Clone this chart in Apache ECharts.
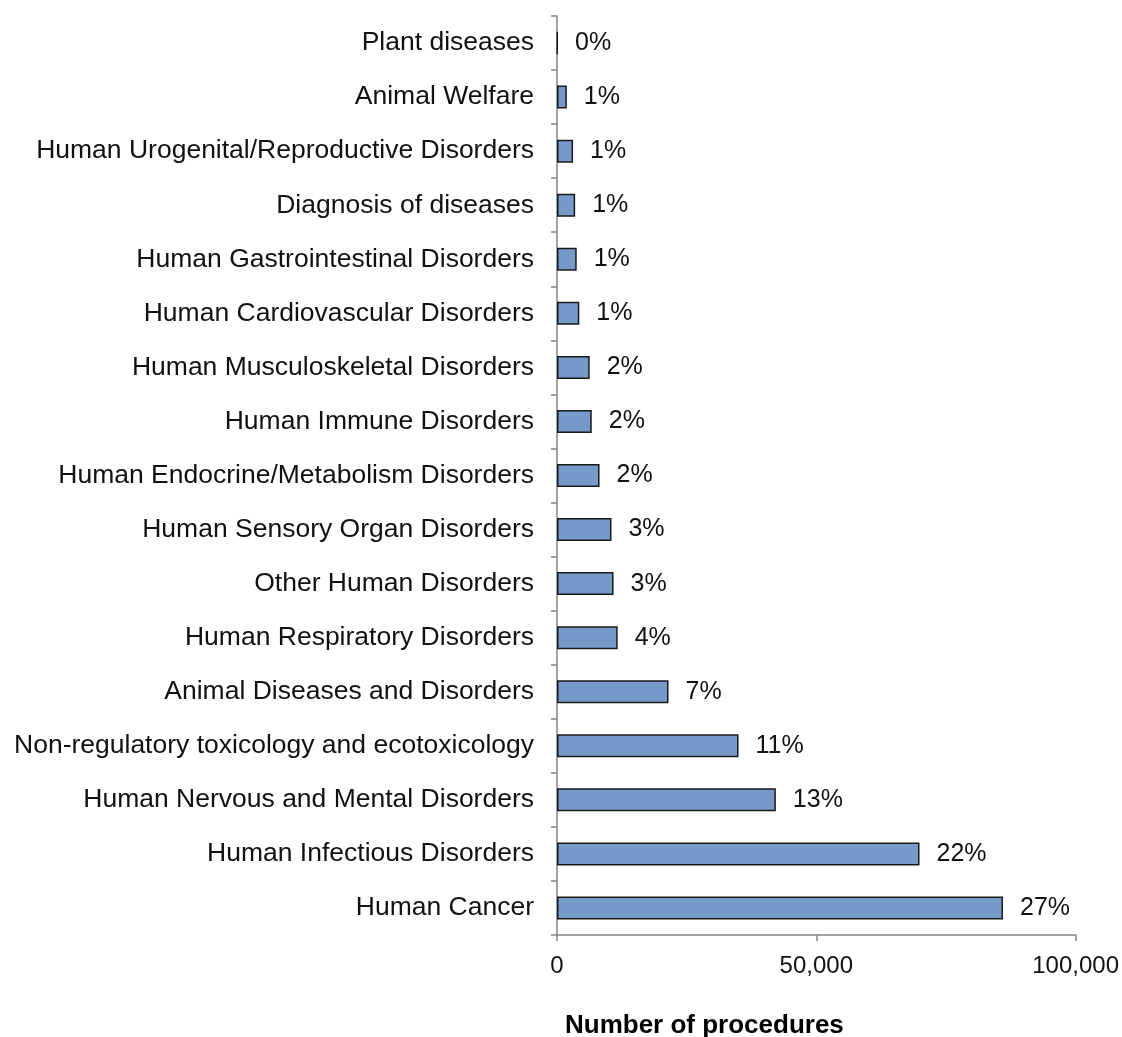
<!DOCTYPE html>
<html>
<head>
<meta charset="utf-8">
<script src="https://cdn.jsdelivr.net/npm/echarts@6/dist/echarts.min.js"></script>
<style>
html,body{margin:0;padding:0;background:#fff;}
#chart{width:1122px;height:1037px;}
</style>
</head>
<body>
<div id="chart"></div>
<script>
// Categories listed top to bottom
const categories = [
  "Plant diseases",
  "Animal Welfare",
  "Human Urogenital/Reproductive Disorders",
  "Diagnosis of diseases",
  "Human Gastrointestinal Disorders",
  "Human Cardiovascular Disorders",
  "Human Musculoskeletal Disorders",
  "Human Immune Disorders",
  "Human Endocrine/Metabolism Disorders",
  "Human Sensory Organ Disorders",
  "Other Human Disorders",
  "Human Respiratory Disorders",
  "Animal Diseases and Disorders",
  "Non-regulatory toxicology and ecotoxicology",
  "Human Nervous and Mental Disorders",
  "Human Infectious Disorders",
  "Human Cancer"
];
const procedures = [100, 1900, 3100, 3500, 3800, 4300, 6300, 6700, 8200, 10500, 10900, 11700, 21500, 35000, 42200, 69900, 86000];
const percentLabels = ["0%", "1%", "1%", "1%", "1%", "1%", "2%", "2%", "2%", "3%", "3%", "4%", "7%", "11%", "13%", "22%", "27%"];
const xTicks = [0, 50000, 100000];

const FONT = "'Liberation Sans', Arial, sans-serif";
const chart = echarts.init(document.getElementById('chart'), null, {renderer: 'canvas'});
chart.setOption({
  animation: false,
  backgroundColor: '#ffffff',
  grid: {left: 557, right: 43, top: 16, bottom: 102, containLabel: false},
  xAxis: {
    type: 'value',
    min: xTicks[0],
    max: xTicks[xTicks.length - 1],
    interval: xTicks[1] - xTicks[0],
    axisLine: {show: true, lineStyle: {color: '#868686', width: 1.5}},
    axisTick: {show: true, length: 6, lineStyle: {color: '#868686', width: 1.5}},
    splitLine: {show: false},
    axisLabel: {
      margin: 19, color: '#111', fontSize: 24, fontFamily: FONT,
      formatter: v => v.toLocaleString('en-US')
    }
  },
  yAxis: {
    type: 'category',
    data: categories,
    inverse: true,
    axisLine: {show: true, lineStyle: {color: '#868686', width: 1.5}},
    axisTick: {show: true, length: 6, lineStyle: {color: '#868686', width: 1.5}},
    axisLabel: {margin: 23, color: '#111', fontSize: 26.5, fontFamily: FONT}
  },
  series: [{
    type: 'bar',
    data: procedures,
    barWidth: 23,
    itemStyle: {color: '#7599c9', borderColor: '#1a1a1a', borderWidth: 1.5},
    label: {
      show: true, position: 'right', distance: 17,
      color: '#111', fontSize: 25, fontFamily: FONT,
      formatter: p => percentLabels[p.dataIndex]
    }
  }],
  graphic: [{
    type: 'text',
    left: 565, top: 1013,
    style: {text: 'Number of procedures', font: "bold 26px 'Liberation Sans', Arial, sans-serif", fill: '#000'}
  }]
});
</script>
</body>
</html>
